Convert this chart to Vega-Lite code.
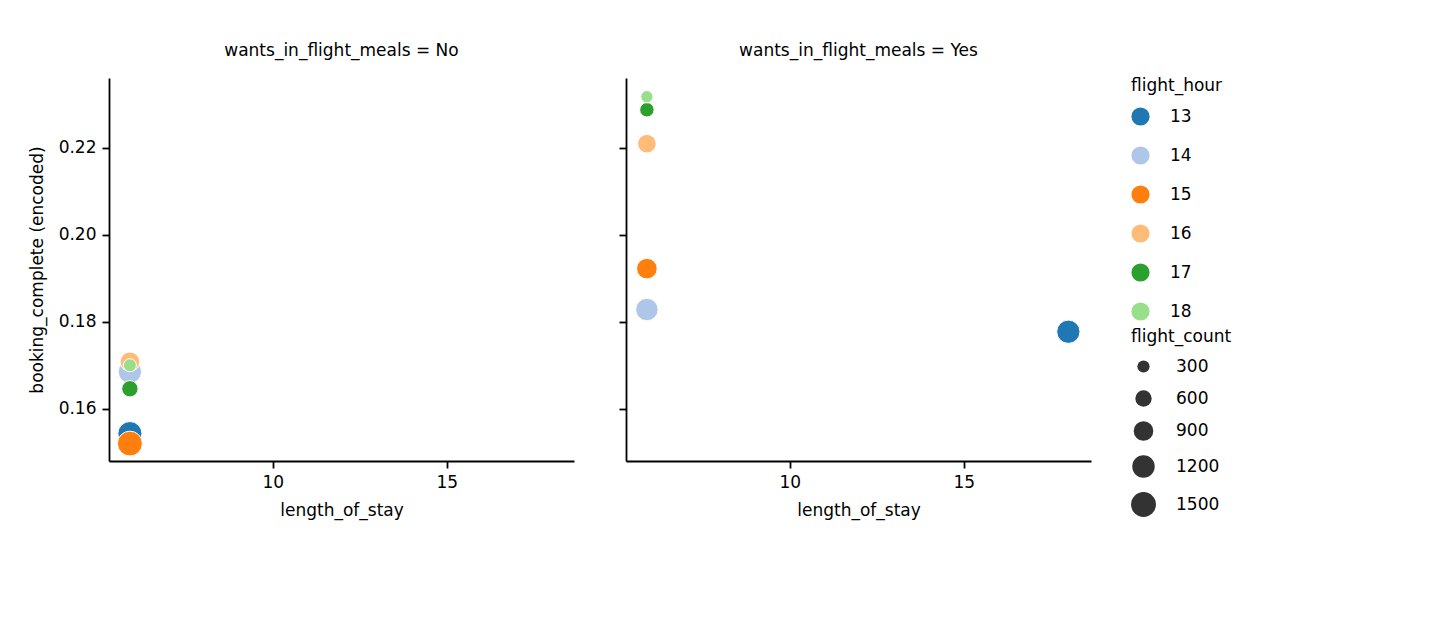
{
  "$schema": "https://vega.github.io/schema/vega-lite/v6.json",
  "background": "white",
  "padding": {"left": 28, "top": 42, "right": 10, "bottom": 10},
  "config": {
    "font": "DejaVu Sans",
    "view": {"stroke": null},
    "axis": {"grid": false, "domainColor": "black", "tickColor": "black", "labelFontSize": 17, "titleFontSize": 17, "titleFontWeight": "normal", "labelColor": "black", "titleColor": "black", "tickSize": 7, "domainWidth": 1.8, "tickWidth": 1.8, "labelPadding": 6},
    "title": {"fontSize": 17, "fontWeight": "normal", "color": "black", "offset": 18},
    "legend": {"labelFontSize": 17, "titleFontSize": 17, "titleFontWeight": "normal", "rowPadding": 20, "labelColor": "black", "titleColor": "black", "offset": 40, "titlePadding": 12}
  },
  "data": {"values": [
    {"panel": "No", "length_of_stay": 5.9, "booking": 0.1543, "flight_hour": "13", "flight_count": 1400},
    {"panel": "No", "length_of_stay": 5.9, "booking": 0.1685, "flight_hour": "14", "flight_count": 1300},
    {"panel": "No", "length_of_stay": 5.9, "booking": 0.1520, "flight_hour": "15", "flight_count": 1500},
    {"panel": "No", "length_of_stay": 5.9, "booking": 0.1708, "flight_hour": "16", "flight_count": 900},
    {"panel": "No", "length_of_stay": 5.9, "booking": 0.1646, "flight_hour": "17", "flight_count": 600},
    {"panel": "No", "length_of_stay": 5.9, "booking": 0.1700, "flight_hour": "18", "flight_count": 350},
    {"panel": "Yes", "length_of_stay": 18.0, "booking": 0.1777, "flight_hour": "13", "flight_count": 1300},
    {"panel": "Yes", "length_of_stay": 5.9, "booking": 0.1828, "flight_hour": "14", "flight_count": 1200},
    {"panel": "Yes", "length_of_stay": 5.9, "booking": 0.1922, "flight_hour": "15", "flight_count": 1000},
    {"panel": "Yes", "length_of_stay": 5.9, "booking": 0.2209, "flight_hour": "16", "flight_count": 800},
    {"panel": "Yes", "length_of_stay": 5.9, "booking": 0.2287, "flight_hour": "17", "flight_count": 450},
    {"panel": "Yes", "length_of_stay": 5.9, "booking": 0.2317, "flight_hour": "18", "flight_count": 300}
  ]},
  "spacing": 44,
  "hconcat": [
    {
      "title": "wants_in_flight_meals = No",
      "width": 465, "height": 383,
      "transform": [{"filter": "datum.panel == 'No'"}],
      "mark": {"type": "circle", "opacity": 1, "stroke": "white", "strokeWidth": 1},
      "encoding": {
        "x": {"field": "length_of_stay", "type": "quantitative", "scale": {"domain": [5.3, 18.65], "nice": false}, "axis": {"values": [10, 15], "titlePadding": 12}},
        "y": {"field": "booking", "type": "quantitative", "title": "booking_complete (encoded)", "scale": {"domain": [0.148, 0.236], "nice": false, "zero": false}, "axis": {"values": [0.16, 0.18, 0.2, 0.22], "format": ".2f", "titlePadding": 12}},
        "color": {"field": "flight_hour", "type": "nominal", "scale": {"domain": ["13","14","15","16","17","18"], "range": ["#1f77b4","#aec7e8","#ff7f0e","#ffbb78","#2ca02c","#98df8a"]}, "legend": {"symbolSize": 330, "symbolStrokeWidth": 0, "symbolOpacity": 1, "labelOffset": 20}},
        "size": {"field": "flight_count", "type": "quantitative", "scale": {"domain": [300, 1500], "range": [150, 620], "zero": false}, "legend": {"values": [300, 600, 900, 1200, 1500], "format": "d", "symbolFillColor": "#333333", "symbolStrokeWidth": 0, "symbolOpacity": 1, "labelOffset": 20, "rowPadding": 14}}
      }
    },
    {
      "title": "wants_in_flight_meals = Yes",
      "width": 465, "height": 383,
      "transform": [{"filter": "datum.panel == 'Yes'"}],
      "mark": {"type": "circle", "opacity": 1, "stroke": "white", "strokeWidth": 1},
      "encoding": {
        "x": {"field": "length_of_stay", "type": "quantitative", "scale": {"domain": [5.3, 18.65], "nice": false}, "axis": {"values": [10, 15], "titlePadding": 12}},
        "y": {"field": "booking", "type": "quantitative", "scale": {"domain": [0.148, 0.236], "nice": false, "zero": false}, "axis": {"values": [0.16, 0.18, 0.2, 0.22], "labels": false, "title": null}},
        "color": {"field": "flight_hour", "type": "nominal", "scale": {"domain": ["13","14","15","16","17","18"], "range": ["#1f77b4","#aec7e8","#ff7f0e","#ffbb78","#2ca02c","#98df8a"]}},
        "size": {"field": "flight_count", "type": "quantitative", "scale": {"domain": [300, 1500], "range": [150, 620], "zero": false}}
      }
    }
  ]
}
